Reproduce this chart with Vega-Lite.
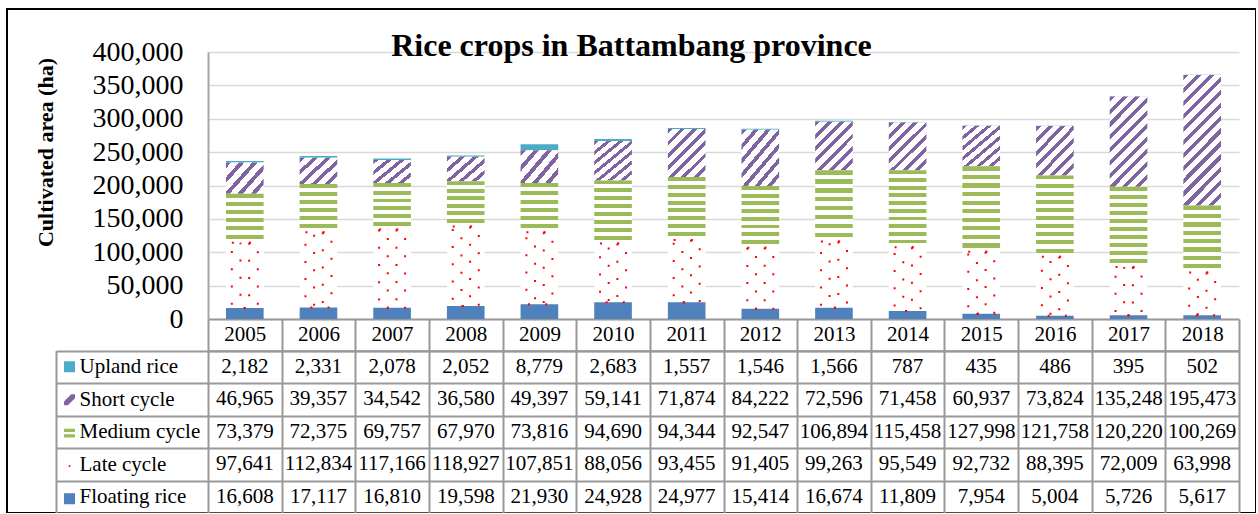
{
  "$schema": "https://vega.github.io/schema/vega-lite/v6.json",
  "width": 1249,
  "height": 504,
  "autosize": {"type": "none"},
  "padding": {"left": 7, "top": 9, "right": 0, "bottom": 0},
  "background": "white",
  "title": {"text": "Rice crops in Battambang province", "font": "Liberation Serif", "fontSize": 32, "fontWeight": "bold", "color": "#000000", "anchor": "middle", "frame": "group", "offset": -49, "dy": 41, "baseline": "alphabetic"},
  "data": {"values": [
    {"year": "2005", "series": "Upland rice", "value": 2182},
    {"year": "2006", "series": "Upland rice", "value": 2331},
    {"year": "2007", "series": "Upland rice", "value": 2078},
    {"year": "2008", "series": "Upland rice", "value": 2052},
    {"year": "2009", "series": "Upland rice", "value": 8779},
    {"year": "2010", "series": "Upland rice", "value": 2683},
    {"year": "2011", "series": "Upland rice", "value": 1557},
    {"year": "2012", "series": "Upland rice", "value": 1546},
    {"year": "2013", "series": "Upland rice", "value": 1566},
    {"year": "2014", "series": "Upland rice", "value": 787},
    {"year": "2015", "series": "Upland rice", "value": 435},
    {"year": "2016", "series": "Upland rice", "value": 486},
    {"year": "2017", "series": "Upland rice", "value": 395},
    {"year": "2018", "series": "Upland rice", "value": 502},
    {"year": "2005", "series": "Short cycle", "value": 46965},
    {"year": "2006", "series": "Short cycle", "value": 39357},
    {"year": "2007", "series": "Short cycle", "value": 34542},
    {"year": "2008", "series": "Short cycle", "value": 36580},
    {"year": "2009", "series": "Short cycle", "value": 49397},
    {"year": "2010", "series": "Short cycle", "value": 59141},
    {"year": "2011", "series": "Short cycle", "value": 71874},
    {"year": "2012", "series": "Short cycle", "value": 84222},
    {"year": "2013", "series": "Short cycle", "value": 72596},
    {"year": "2014", "series": "Short cycle", "value": 71458},
    {"year": "2015", "series": "Short cycle", "value": 60937},
    {"year": "2016", "series": "Short cycle", "value": 73824},
    {"year": "2017", "series": "Short cycle", "value": 135248},
    {"year": "2018", "series": "Short cycle", "value": 195473},
    {"year": "2005", "series": "Medium cycle", "value": 73379},
    {"year": "2006", "series": "Medium cycle", "value": 72375},
    {"year": "2007", "series": "Medium cycle", "value": 69757},
    {"year": "2008", "series": "Medium cycle", "value": 67970},
    {"year": "2009", "series": "Medium cycle", "value": 73816},
    {"year": "2010", "series": "Medium cycle", "value": 94690},
    {"year": "2011", "series": "Medium cycle", "value": 94344},
    {"year": "2012", "series": "Medium cycle", "value": 92547},
    {"year": "2013", "series": "Medium cycle", "value": 106894},
    {"year": "2014", "series": "Medium cycle", "value": 115458},
    {"year": "2015", "series": "Medium cycle", "value": 127998},
    {"year": "2016", "series": "Medium cycle", "value": 121758},
    {"year": "2017", "series": "Medium cycle", "value": 120220},
    {"year": "2018", "series": "Medium cycle", "value": 100269},
    {"year": "2005", "series": "Late cycle", "value": 97641},
    {"year": "2006", "series": "Late cycle", "value": 112834},
    {"year": "2007", "series": "Late cycle", "value": 117166},
    {"year": "2008", "series": "Late cycle", "value": 118927},
    {"year": "2009", "series": "Late cycle", "value": 107851},
    {"year": "2010", "series": "Late cycle", "value": 88056},
    {"year": "2011", "series": "Late cycle", "value": 93455},
    {"year": "2012", "series": "Late cycle", "value": 91405},
    {"year": "2013", "series": "Late cycle", "value": 99263},
    {"year": "2014", "series": "Late cycle", "value": 95549},
    {"year": "2015", "series": "Late cycle", "value": 92732},
    {"year": "2016", "series": "Late cycle", "value": 88395},
    {"year": "2017", "series": "Late cycle", "value": 72009},
    {"year": "2018", "series": "Late cycle", "value": 63998},
    {"year": "2005", "series": "Floating rice", "value": 16608},
    {"year": "2006", "series": "Floating rice", "value": 17117},
    {"year": "2007", "series": "Floating rice", "value": 16810},
    {"year": "2008", "series": "Floating rice", "value": 19598},
    {"year": "2009", "series": "Floating rice", "value": 21930},
    {"year": "2010", "series": "Floating rice", "value": 24928},
    {"year": "2011", "series": "Floating rice", "value": 24977},
    {"year": "2012", "series": "Floating rice", "value": 15414},
    {"year": "2013", "series": "Floating rice", "value": 16674},
    {"year": "2014", "series": "Floating rice", "value": 11809},
    {"year": "2015", "series": "Floating rice", "value": 7954},
    {"year": "2016", "series": "Floating rice", "value": 5004},
    {"year": "2017", "series": "Floating rice", "value": 5726},
    {"year": "2018", "series": "Floating rice", "value": 5617}
  ]},
  "layer": [
    {
      "layer": [
        {
          "mark": {"type": "bar", "width": {"band": 0.511}},
          "encoding": {
            "x": {"field": "year", "type": "nominal",
              "scale": {"type": "band", "domain": ["2005","2006","2007","2008","2009","2010","2011","2012","2013","2014","2015","2016","2017","2018"], "range": [201, 1232], "paddingInner": 0, "paddingOuter": 0},
              "axis": {"orient": "bottom", "offset": -194, "labels": false, "ticks": false, "grid": false, "domain": true, "domainColor": "#999999", "domainWidth": 2, "title": null}},
            "y": {"field": "value", "type": "quantitative", "stack": "zero", "title": "Cultivated area (ha)",
              "scale": {"domain": [0, 400000], "range": [310, 43], "nice": false, "zero": true},
              "axis": {"orient": "left", "offset": -201, "values": [0, 50000, 100000, 150000, 200000, 250000, 300000, 350000, 400000], "format": ",.0f",
                "labelFont": "Liberation Serif", "labelFontSize": 28, "labelColor": "#000000", "labelPadding": 25, "labelOverlap": false, "labelBaseline": "middle",
                "ticks": false, "domain": true, "domainColor": "#a6a6a6", "domainWidth": 2,
                "grid": true, "gridColor": "#d9d9d9", "gridWidth": 1.5,
                "title": "Cultivated area (ha)", "titleFont": "Liberation Serif", "titleFontSize": 22, "titleFontWeight": "bold", "titleColor": "#000000",
                "titleAngle": 270, "titleX": -156, "titleY": 143, "titleBaseline": "alphabetic", "titleAlign": "center"}},
            "detail": {"field": "series"},
            "order": {"field": "series", "sort": "ascending"},
            "fill": {
              "condition": [
                {"test": "datum.series === 'Upland rice'", "value": "#4BACC6"},
                {"test": "datum.series === 'Late cycle'", "value": "#FFFFFF"},
                {"test": "datum.series === 'Short cycle' && datum.value < 55000", "value": {"gradient": "linear", "x1": 0, "y1": 0, "x2": 1.1223, "y2": 0.8358, "stops": [
                  {"offset": 0, "color": "#8064A2"}, {"offset": 0.08, "color": "#8064A2"}, {"offset": 0.08, "color": "#FFFFFF"}, {"offset": 0.2, "color": "#FFFFFF"},
                  {"offset": 0.2, "color": "#8064A2"}, {"offset": 0.28, "color": "#8064A2"}, {"offset": 0.28, "color": "#FFFFFF"}, {"offset": 0.4, "color": "#FFFFFF"},
                  {"offset": 0.4, "color": "#8064A2"}, {"offset": 0.48, "color": "#8064A2"}, {"offset": 0.48, "color": "#FFFFFF"}, {"offset": 0.6, "color": "#FFFFFF"},
                  {"offset": 0.6, "color": "#8064A2"}, {"offset": 0.68, "color": "#8064A2"}, {"offset": 0.68, "color": "#FFFFFF"}, {"offset": 0.8, "color": "#FFFFFF"},
                  {"offset": 0.8, "color": "#8064A2"}, {"offset": 0.88, "color": "#8064A2"}, {"offset": 0.88, "color": "#FFFFFF"}, {"offset": 1, "color": "#FFFFFF"}]}},
                {"test": "datum.series === 'Short cycle' && datum.value < 100000", "value": {"gradient": "linear", "x1": 0, "y1": 0, "x2": 0.8657, "y2": 1.1052, "stops": [
                  {"offset": 0, "color": "#8064A2"}, {"offset": 0.0571, "color": "#8064A2"}, {"offset": 0.0571, "color": "#FFFFFF"}, {"offset": 0.1429, "color": "#FFFFFF"},
                  {"offset": 0.1429, "color": "#8064A2"}, {"offset": 0.2, "color": "#8064A2"}, {"offset": 0.2, "color": "#FFFFFF"}, {"offset": 0.2857, "color": "#FFFFFF"},
                  {"offset": 0.2857, "color": "#8064A2"}, {"offset": 0.3429, "color": "#8064A2"}, {"offset": 0.3429, "color": "#FFFFFF"}, {"offset": 0.4286, "color": "#FFFFFF"},
                  {"offset": 0.4286, "color": "#8064A2"}, {"offset": 0.4857, "color": "#8064A2"}, {"offset": 0.4857, "color": "#FFFFFF"}, {"offset": 0.5714, "color": "#FFFFFF"},
                  {"offset": 0.5714, "color": "#8064A2"}, {"offset": 0.6286, "color": "#8064A2"}, {"offset": 0.6286, "color": "#FFFFFF"}, {"offset": 0.7143, "color": "#FFFFFF"},
                  {"offset": 0.7143, "color": "#8064A2"}, {"offset": 0.7714, "color": "#8064A2"}, {"offset": 0.7714, "color": "#FFFFFF"}, {"offset": 0.8571, "color": "#FFFFFF"},
                  {"offset": 0.8571, "color": "#8064A2"}, {"offset": 0.9143, "color": "#8064A2"}, {"offset": 0.9143, "color": "#FFFFFF"}, {"offset": 1, "color": "#FFFFFF"}]}},
                {"test": "datum.series === 'Short cycle' && datum.value < 160000", "value": {"gradient": "linear", "x1": 0, "y1": 0, "x2": 0.5043, "y2": 1.2071, "stops": [
                  {"offset": 0, "color": "#8064A2"}, {"offset": 0.04, "color": "#8064A2"}, {"offset": 0.04, "color": "#FFFFFF"}, {"offset": 0.1, "color": "#FFFFFF"},
                  {"offset": 0.1, "color": "#8064A2"}, {"offset": 0.14, "color": "#8064A2"}, {"offset": 0.14, "color": "#FFFFFF"}, {"offset": 0.2, "color": "#FFFFFF"},
                  {"offset": 0.2, "color": "#8064A2"}, {"offset": 0.24, "color": "#8064A2"}, {"offset": 0.24, "color": "#FFFFFF"}, {"offset": 0.3, "color": "#FFFFFF"},
                  {"offset": 0.3, "color": "#8064A2"}, {"offset": 0.34, "color": "#8064A2"}, {"offset": 0.34, "color": "#FFFFFF"}, {"offset": 0.4, "color": "#FFFFFF"},
                  {"offset": 0.4, "color": "#8064A2"}, {"offset": 0.44, "color": "#8064A2"}, {"offset": 0.44, "color": "#FFFFFF"}, {"offset": 0.5, "color": "#FFFFFF"},
                  {"offset": 0.5, "color": "#8064A2"}, {"offset": 0.54, "color": "#8064A2"}, {"offset": 0.54, "color": "#FFFFFF"}, {"offset": 0.6, "color": "#FFFFFF"},
                  {"offset": 0.6, "color": "#8064A2"}, {"offset": 0.64, "color": "#8064A2"}, {"offset": 0.64, "color": "#FFFFFF"}, {"offset": 0.7, "color": "#FFFFFF"},
                  {"offset": 0.7, "color": "#8064A2"}, {"offset": 0.74, "color": "#8064A2"}, {"offset": 0.74, "color": "#FFFFFF"}, {"offset": 0.8, "color": "#FFFFFF"},
                  {"offset": 0.8, "color": "#8064A2"}, {"offset": 0.84, "color": "#8064A2"}, {"offset": 0.84, "color": "#FFFFFF"}, {"offset": 0.9, "color": "#FFFFFF"},
                  {"offset": 0.9, "color": "#8064A2"}, {"offset": 0.94, "color": "#8064A2"}, {"offset": 0.94, "color": "#FFFFFF"}, {"offset": 1, "color": "#FFFFFF"}]}},
                {"test": "datum.series === 'Short cycle'", "value": {"gradient": "linear", "x1": 0, "y1": 0, "x2": 0.3441, "y2": 1.1897, "stops": [
                  {"offset": 0, "color": "#8064A2"}, {"offset": 0.0308, "color": "#8064A2"}, {"offset": 0.0308, "color": "#FFFFFF"}, {"offset": 0.0769, "color": "#FFFFFF"},
                  {"offset": 0.0769, "color": "#8064A2"}, {"offset": 0.1077, "color": "#8064A2"}, {"offset": 0.1077, "color": "#FFFFFF"}, {"offset": 0.1538, "color": "#FFFFFF"},
                  {"offset": 0.1538, "color": "#8064A2"}, {"offset": 0.1846, "color": "#8064A2"}, {"offset": 0.1846, "color": "#FFFFFF"}, {"offset": 0.2308, "color": "#FFFFFF"},
                  {"offset": 0.2308, "color": "#8064A2"}, {"offset": 0.2615, "color": "#8064A2"}, {"offset": 0.2615, "color": "#FFFFFF"}, {"offset": 0.3077, "color": "#FFFFFF"},
                  {"offset": 0.3077, "color": "#8064A2"}, {"offset": 0.3385, "color": "#8064A2"}, {"offset": 0.3385, "color": "#FFFFFF"}, {"offset": 0.3846, "color": "#FFFFFF"},
                  {"offset": 0.3846, "color": "#8064A2"}, {"offset": 0.4154, "color": "#8064A2"}, {"offset": 0.4154, "color": "#FFFFFF"}, {"offset": 0.4615, "color": "#FFFFFF"},
                  {"offset": 0.4615, "color": "#8064A2"}, {"offset": 0.4923, "color": "#8064A2"}, {"offset": 0.4923, "color": "#FFFFFF"}, {"offset": 0.5385, "color": "#FFFFFF"},
                  {"offset": 0.5385, "color": "#8064A2"}, {"offset": 0.5692, "color": "#8064A2"}, {"offset": 0.5692, "color": "#FFFFFF"}, {"offset": 0.6154, "color": "#FFFFFF"},
                  {"offset": 0.6154, "color": "#8064A2"}, {"offset": 0.6462, "color": "#8064A2"}, {"offset": 0.6462, "color": "#FFFFFF"}, {"offset": 0.6923, "color": "#FFFFFF"},
                  {"offset": 0.6923, "color": "#8064A2"}, {"offset": 0.7231, "color": "#8064A2"}, {"offset": 0.7231, "color": "#FFFFFF"}, {"offset": 0.7692, "color": "#FFFFFF"},
                  {"offset": 0.7692, "color": "#8064A2"}, {"offset": 0.8, "color": "#8064A2"}, {"offset": 0.8, "color": "#FFFFFF"}, {"offset": 0.8462, "color": "#FFFFFF"},
                  {"offset": 0.8462, "color": "#8064A2"}, {"offset": 0.8769, "color": "#8064A2"}, {"offset": 0.8769, "color": "#FFFFFF"}, {"offset": 0.9231, "color": "#FFFFFF"},
                  {"offset": 0.9231, "color": "#8064A2"}, {"offset": 0.9538, "color": "#8064A2"}, {"offset": 0.9538, "color": "#FFFFFF"}, {"offset": 1, "color": "#FFFFFF"}]}},
                {"test": "datum.series === 'Medium cycle' && datum.value < 80000", "value": {"gradient": "linear", "x1": 0, "y1": 0, "x2": 0, "y2": 1, "stops": [
                  {"offset": 0, "color": "#9BBB59"}, {"offset": 0.0833, "color": "#9BBB59"}, {"offset": 0.0833, "color": "#FFFFFF"}, {"offset": 0.1667, "color": "#FFFFFF"},
                  {"offset": 0.1667, "color": "#9BBB59"}, {"offset": 0.25, "color": "#9BBB59"}, {"offset": 0.25, "color": "#FFFFFF"}, {"offset": 0.3333, "color": "#FFFFFF"},
                  {"offset": 0.3333, "color": "#9BBB59"}, {"offset": 0.4167, "color": "#9BBB59"}, {"offset": 0.4167, "color": "#FFFFFF"}, {"offset": 0.5, "color": "#FFFFFF"},
                  {"offset": 0.5, "color": "#9BBB59"}, {"offset": 0.5833, "color": "#9BBB59"}, {"offset": 0.5833, "color": "#FFFFFF"}, {"offset": 0.6667, "color": "#FFFFFF"},
                  {"offset": 0.6667, "color": "#9BBB59"}, {"offset": 0.75, "color": "#9BBB59"}, {"offset": 0.75, "color": "#FFFFFF"}, {"offset": 0.8333, "color": "#FFFFFF"},
                  {"offset": 0.8333, "color": "#9BBB59"}, {"offset": 0.9167, "color": "#9BBB59"}, {"offset": 0.9167, "color": "#FFFFFF"}, {"offset": 1, "color": "#FFFFFF"}]}},
                {"test": "datum.series === 'Medium cycle' && datum.value < 110000", "value": {"gradient": "linear", "x1": 0, "y1": 0, "x2": 0, "y2": 1, "stops": [
                  {"offset": 0, "color": "#9BBB59"}, {"offset": 0.0625, "color": "#9BBB59"}, {"offset": 0.0625, "color": "#FFFFFF"}, {"offset": 0.125, "color": "#FFFFFF"},
                  {"offset": 0.125, "color": "#9BBB59"}, {"offset": 0.1875, "color": "#9BBB59"}, {"offset": 0.1875, "color": "#FFFFFF"}, {"offset": 0.25, "color": "#FFFFFF"},
                  {"offset": 0.25, "color": "#9BBB59"}, {"offset": 0.3125, "color": "#9BBB59"}, {"offset": 0.3125, "color": "#FFFFFF"}, {"offset": 0.375, "color": "#FFFFFF"},
                  {"offset": 0.375, "color": "#9BBB59"}, {"offset": 0.4375, "color": "#9BBB59"}, {"offset": 0.4375, "color": "#FFFFFF"}, {"offset": 0.5, "color": "#FFFFFF"},
                  {"offset": 0.5, "color": "#9BBB59"}, {"offset": 0.5625, "color": "#9BBB59"}, {"offset": 0.5625, "color": "#FFFFFF"}, {"offset": 0.625, "color": "#FFFFFF"},
                  {"offset": 0.625, "color": "#9BBB59"}, {"offset": 0.6875, "color": "#9BBB59"}, {"offset": 0.6875, "color": "#FFFFFF"}, {"offset": 0.75, "color": "#FFFFFF"},
                  {"offset": 0.75, "color": "#9BBB59"}, {"offset": 0.8125, "color": "#9BBB59"}, {"offset": 0.8125, "color": "#FFFFFF"}, {"offset": 0.875, "color": "#FFFFFF"},
                  {"offset": 0.875, "color": "#9BBB59"}, {"offset": 0.9375, "color": "#9BBB59"}, {"offset": 0.9375, "color": "#FFFFFF"}, {"offset": 1, "color": "#FFFFFF"}]}},
                {"test": "datum.series === 'Medium cycle'", "value": {"gradient": "linear", "x1": 0, "y1": 0, "x2": 0, "y2": 1, "stops": [
                  {"offset": 0, "color": "#9BBB59"}, {"offset": 0.05, "color": "#9BBB59"}, {"offset": 0.05, "color": "#FFFFFF"}, {"offset": 0.1, "color": "#FFFFFF"},
                  {"offset": 0.1, "color": "#9BBB59"}, {"offset": 0.15, "color": "#9BBB59"}, {"offset": 0.15, "color": "#FFFFFF"}, {"offset": 0.2, "color": "#FFFFFF"},
                  {"offset": 0.2, "color": "#9BBB59"}, {"offset": 0.25, "color": "#9BBB59"}, {"offset": 0.25, "color": "#FFFFFF"}, {"offset": 0.3, "color": "#FFFFFF"},
                  {"offset": 0.3, "color": "#9BBB59"}, {"offset": 0.35, "color": "#9BBB59"}, {"offset": 0.35, "color": "#FFFFFF"}, {"offset": 0.4, "color": "#FFFFFF"},
                  {"offset": 0.4, "color": "#9BBB59"}, {"offset": 0.45, "color": "#9BBB59"}, {"offset": 0.45, "color": "#FFFFFF"}, {"offset": 0.5, "color": "#FFFFFF"},
                  {"offset": 0.5, "color": "#9BBB59"}, {"offset": 0.55, "color": "#9BBB59"}, {"offset": 0.55, "color": "#FFFFFF"}, {"offset": 0.6, "color": "#FFFFFF"},
                  {"offset": 0.6, "color": "#9BBB59"}, {"offset": 0.65, "color": "#9BBB59"}, {"offset": 0.65, "color": "#FFFFFF"}, {"offset": 0.7, "color": "#FFFFFF"},
                  {"offset": 0.7, "color": "#9BBB59"}, {"offset": 0.75, "color": "#9BBB59"}, {"offset": 0.75, "color": "#FFFFFF"}, {"offset": 0.8, "color": "#FFFFFF"},
                  {"offset": 0.8, "color": "#9BBB59"}, {"offset": 0.85, "color": "#9BBB59"}, {"offset": 0.85, "color": "#FFFFFF"}, {"offset": 0.9, "color": "#FFFFFF"},
                  {"offset": 0.9, "color": "#9BBB59"}, {"offset": 0.95, "color": "#9BBB59"}, {"offset": 0.95, "color": "#FFFFFF"}, {"offset": 1, "color": "#FFFFFF"}]}}
              ],
              "value": "#4F81BD"
            }
          }
        },
        {
          "mark": {"type": "bar", "width": {"band": 0.353}, "fillOpacity": 0, "strokeWidth": 2, "strokeDash": [2, 15.2]},
          "encoding": {
            "x": {"field": "year", "type": "nominal"},
            "y": {"field": "value", "type": "quantitative", "stack": "zero", "title": "Cultivated area (ha)"},
            "detail": {"field": "series"},
            "order": {"field": "series", "sort": "ascending"},
            "stroke": {"condition": {"test": "datum.series === 'Late cycle'", "value": "#FF0000"}, "value": "transparent"}
          }
        },
        {
          "mark": {"type": "bar", "width": {"band": 0.118}, "fillOpacity": 0, "strokeWidth": 2, "strokeDash": [2, 15.2], "strokeDashOffset": 8.6},
          "encoding": {
            "x": {"field": "year", "type": "nominal"},
            "y": {"field": "value", "type": "quantitative", "stack": "zero", "title": "Cultivated area (ha)"},
            "detail": {"field": "series"},
            "order": {"field": "series", "sort": "ascending"},
            "stroke": {"condition": {"test": "datum.series === 'Late cycle'", "value": "#FF0000"}, "value": "transparent"}
          }
        }
      ]
    },
    {
      "layer": [
        {
          "mark": {"type": "text", "font": "Liberation Serif", "fontSize": 21, "fill": "#000000", "baseline": "middle", "align": "center"},
          "encoding": {
            "x": {"field": "year", "type": "nominal",
              "scale": {"type": "band", "domain": ["2005","2006","2007","2008","2009","2010","2011","2012","2013","2014","2015","2016","2017","2018"], "range": [201, 1232], "paddingInner": 0, "paddingOuter": 0},
              "axis": {"orient": "top", "offset": -341.7, "tickBand": "extent", "ticks": true, "tickSize": 31.7, "tickColor": "#999999", "tickWidth": 2,
                "labels": true, "labelFont": "Liberation Serif", "labelFontSize": 21, "labelColor": "#000000", "labelPadding": -15.85, "labelBaseline": "middle", "labelAngle": 0, "labelOverlap": false,
                "domain": true, "domainColor": "#999999", "domainWidth": 2, "grid": true, "gridColor": "#999999", "gridWidth": 2, "title": null}},
            "y": {"field": "series", "type": "nominal",
              "scale": {"type": "band", "domain": ["Upland rice", "Short cycle", "Medium cycle", "Late cycle", "Floating rice"], "range": [341.7, 504], "paddingInner": 0, "paddingOuter": 0},
              "axis": {"orient": "left", "offset": -201, "tickBand": "extent", "ticks": true, "tickSize": 152, "tickColor": "#999999", "tickWidth": 2,
                "labels": true, "labelAlign": "left", "labelPadding": -23, "labelFont": "Liberation Serif", "labelFontSize": 21, "labelColor": "#000000", "labelBaseline": "middle", "labelOverlap": false,
                "domain": false, "grid": true, "gridColor": "#999999", "gridWidth": 2, "title": null}},
            "text": {"field": "value", "type": "quantitative", "format": ",.0f"}
          }
        },
        {
          "mark": {"type": "rect", "opacity": 0},
          "encoding": {
            "x": {"field": "year", "type": "nominal"},
            "y": {"field": "series", "type": "nominal",
              "scale": {"type": "band", "domain": ["Upland rice", "Short cycle", "Medium cycle", "Late cycle", "Floating rice"], "range": [341.7, 504], "paddingInner": 0, "paddingOuter": 0},
              "axis": {"orient": "left", "offset": -49, "labels": false, "ticks": false, "grid": false, "domain": true, "domainColor": "#999999", "domainWidth": 2, "title": null}},
            "fill": {"field": "series", "type": "nominal",
              "scale": {"domain": ["Upland rice", "Short cycle", "Medium cycle", "Late cycle", "Floating rice"], "range": ["#4BACC6", "#8064A2", "#9BBB59", "#FF0000", "#4F81BD"]},
              "legend": {"orient": "none", "legendX": 57, "legendY": 341.7, "title": null, "direction": "vertical", "symbolType": "square", "symbolSize": 121, "symbolStrokeWidth": 0,
                "labelExpr": "''", "labelFontSize": 1, "labelOffset": 0, "clipHeight": 32.33, "rowPadding": 0, "padding": 0,
                "encode": {"symbols": {"update": {"shape": {"signal": "datum.value === 'Short cycle' ? 'M-1,1L-0.3,1L1,-0.3L1,-1L0.3,-1L-1,0.3Z' : datum.value === 'Medium cycle' ? 'M-1,-0.75H1V-0.15H-1ZM-1,0.25H1V0.85H-1Z' : datum.value === 'Late cycle' ? 'M-0.15,-0.1H0.15V0.2H-0.15Z' : 'square'"}}}}}}
          }
        }
      ],
      "resolve": {"scale": {"y": "independent"}, "axis": {"y": "independent"}}
    }
  ],
  "resolve": {"scale": {"x": "independent", "y": "independent"}, "axis": {"x": "independent", "y": "independent"}},
  "config": {
    "view": {"stroke": "#000000", "strokeWidth": 2},
    "axis": {"labelFont": "Liberation Serif", "titleFont": "Liberation Serif"},
    "legend": {"labelFont": "Liberation Serif"},
    "text": {"font": "Liberation Serif"}
  }
}
